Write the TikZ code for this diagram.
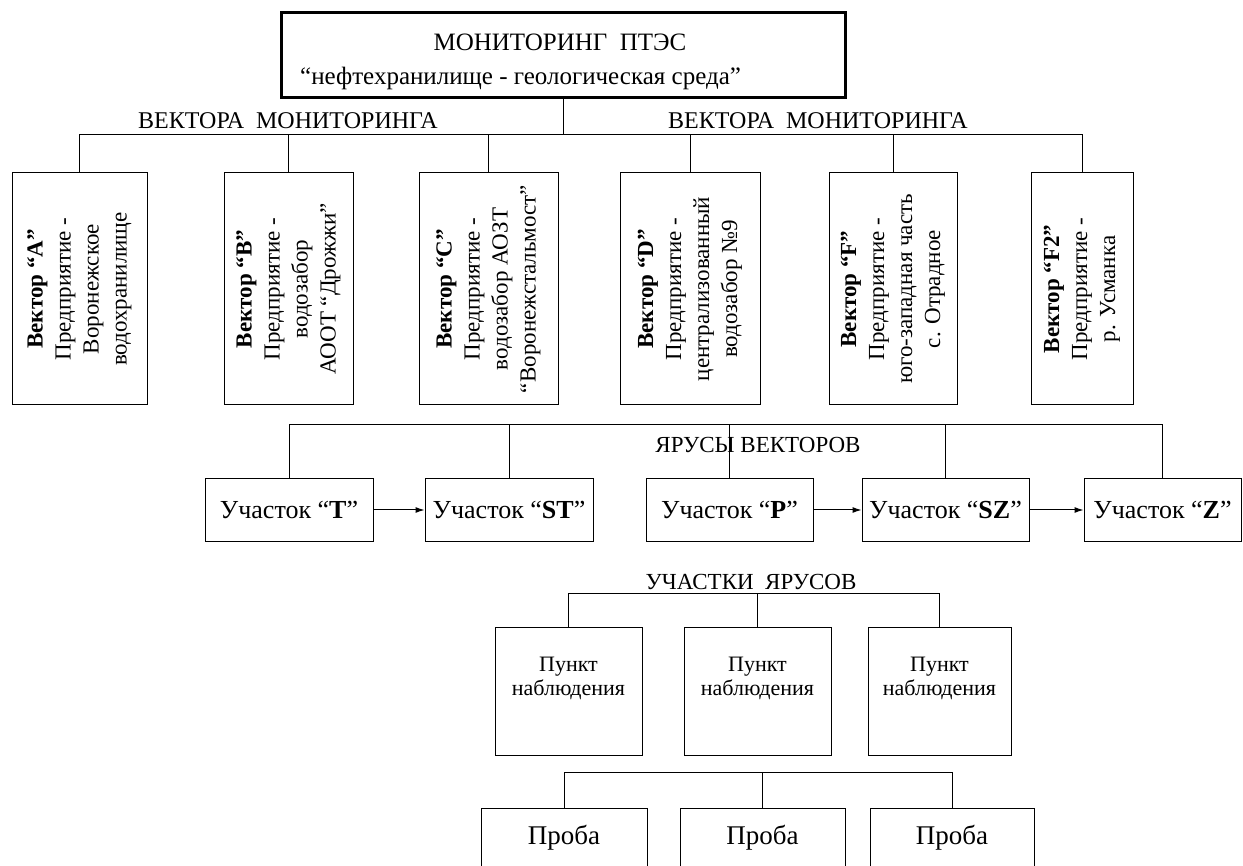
\documentclass[tikz,border=0pt]{standalone}
\usepackage{fontspec}
\setmainfont{Liberation Serif}
\usetikzlibrary{arrows.meta}

\tikzset{
  plainbox/.style={draw, line width=1pt, inner sep=0pt},
  vecbox/.style={plainbox, rotate=90, align=center, minimum width=232pt,
    minimum height=#1, font=\fontsize{23}{28}\selectfont},
  uchbox/.style={plainbox, minimum height=62pt, minimum width=#1,
    font=\fontsize{26}{30}\selectfont},
  ptbox/.style={plainbox, minimum height=128pt, minimum width=#1},
  prbox/.style={plainbox, minimum height=82pt, minimum width=#1},
  lbl/.style={inner sep=0pt, font=\fontsize{23}{27}\selectfont},
  conn/.style={line width=1pt},
  arr/.style={conn, -{Latex[length=9pt,width=6pt]}}
}

\begin{document}
\begin{tikzpicture}[x=1pt, y=-1pt]
  \useasboundingbox (0,0) rectangle (1243,866);
  \clip (0,0) rectangle (1243,866);

  % top block
  \node[plainbox, line width=3pt, minimum width=564pt, minimum height=85pt] (top) at (563,55.5) {};
  \node[inner sep=0pt, font=\fontsize{25}{30}\selectfont] (topA) at (560,42) {МОНИТОРИНГ\ \ ПТЭС};
  \node[inner sep=0pt, anchor=west, font=\fontsize{25}{30}\selectfont] (topB) at (300,78) {“нефтехранилище - геологическая среда”};

  \node[lbl, font=\fontsize{24}{28}\selectfont] (vlblL) at (288,121) {ВЕКТОРА\ \ МОНИТОРИНГА};
  \node[lbl, font=\fontsize{24}{28}\selectfont] (vlblR) at (818,121) {ВЕКТОРА\ \ МОНИТОРИНГА};
  \coordinate (hub) at (563,135);

  % vectors
  \node[vecbox=135pt] (vA) at (79.5,289) {\textbf{Вектор “A”}\\Предприятие -\\Воронежское\\водохранилище};
  \node[vecbox=129pt] (vB) at (288.5,289) {\textbf{Вектор “B”}\\Предприятие -\\водозабор\\АООТ “Дрожжи”};
  \node[vecbox=139pt] (vC) at (488.5,289) {\textbf{Вектор “C”}\\Предприятие -\\водозабор АОЗТ\\“Воронежстальмост”};
  \node[vecbox=140pt] (vD) at (690,289) {\textbf{Вектор “D”}\\Предприятие -\\централизованный\\водозабор №9};
  \node[vecbox=128pt] (vF) at (893,289) {\textbf{Вектор “F”}\\Предприятие -\\юго-западная часть\\с. Отрадное};
  \node[vecbox=102pt] (vF2) at (1082,289) {\textbf{Вектор “F2”}\\Предприятие -\\р. Усманка};

  \draw[conn] (top.south) -- (top.south |- hub);
  \draw[conn] (vA.east) -- (vA.east |- hub) -- (vF2.east |- hub) -- (vF2.east);
  \foreach \v in {vB,vC,vD,vF}
    \draw[conn] (\v.east) -- (\v.east |- hub);

  % tiers
  \coordinate (tier) at (700,425);
  \node[lbl] (tlbl) at (758,445) {ЯРУСЫ ВЕКТОРОВ};
  \node[uchbox=168pt] (uT) at (289,510) {Участок “\textbf{T}”};
  \node[uchbox=168pt] (uST) at (509,510) {Участок “\textbf{ST}”};
  \node[uchbox=167pt] (uP) at (729.5,510) {Участок “\textbf{P}”};
  \node[uchbox=167pt] (uSZ) at (945.5,510) {Участок “\textbf{SZ}”};
  \node[uchbox=157pt] (uZ) at (1162.5,510) {Участок “\textbf{Z}”};

  \draw[conn] (uT.north) -- (uT.north |- tier) -- (uZ.north |- tier) -- (uZ.north);
  \foreach \u in {uST,uP,uSZ}
    \draw[conn] (\u.north) -- (\u.north |- tier);
  \draw[arr] (uT) -- (uST);
  \draw[arr] (uP) -- (uSZ);
  \draw[arr] (uSZ) -- (uZ);

  % observation points
  \node[lbl] (plbl) at (751,582) {УЧАСТКИ\ \ ЯРУСОВ};
  \coordinate (pthub) at (750,593);
  \node[ptbox=147pt] (pt1) at (568.5,691) {};
  \node[ptbox=147pt] (pt2) at (757.5,691) {};
  \node[ptbox=143pt] (pt3) at (939.5,691) {};
  \foreach \p in {pt1,pt2,pt3}
    \node[inner sep=0pt, align=center, font=\fontsize{22}{24}\selectfont] (\p txt) at ([yshift=13pt]\p.center) {Пункт\\наблюдения};

  \draw[conn] (pt1.north) -- (pt1.north |- pthub) -- (pt3.north |- pthub) -- (pt3.north);
  \draw[conn] (pt2.north) -- (pt2.north |- pthub);

  % samples
  \coordinate (prhub) at (760,772);
  \node[prbox=166pt] (pr1) at (564,849) {};
  \node[prbox=165pt] (pr2) at (762.5,849) {};
  \node[prbox=164pt] (pr3) at (952,849) {};
  \foreach \p in {pr1,pr2,pr3}
    \node[inner sep=0pt, font=\fontsize{27}{30}\selectfont] (\p txt) at (\p.center |- 0,838) {Проба};

  \draw[conn] (pr1.north) -- (pr1.north |- prhub) -- (pr3.north |- prhub) -- (pr3.north);
  \draw[conn] (pr2.north) -- (pr2.north |- prhub);
\end{tikzpicture}
\end{document}
